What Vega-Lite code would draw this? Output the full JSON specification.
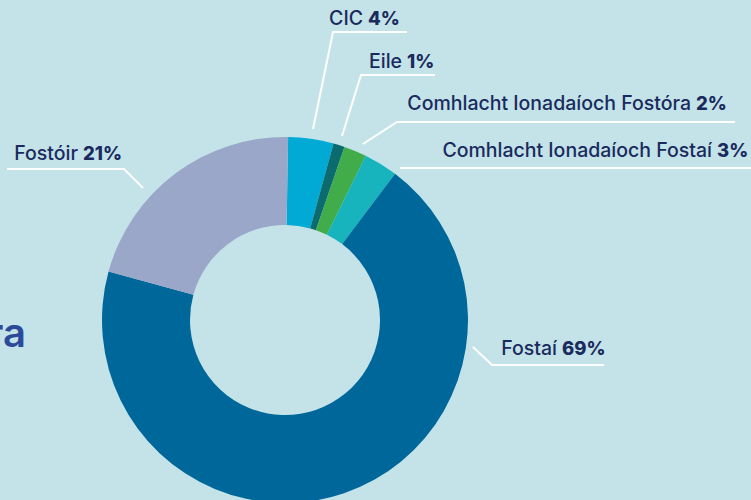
{
  "$schema": "https://vega.github.io/schema/vega-lite/v6.json",
  "width": 751,
  "height": 500,
  "autosize": {"type": "none"},
  "padding": 0,
  "background": "#c3e3e8",
  "config": {"view": {"stroke": null}},
  "datasets": {
    "slices": [
      {"name": "CIC", "pct": 4, "order": 1},
      {"name": "Eile", "pct": 1, "order": 2},
      {"name": "Comhlacht Ionadaíoch Fostóra", "pct": 2, "order": 3},
      {"name": "Comhlacht Ionadaíoch Fostaí", "pct": 3, "order": 4},
      {"name": "Fostaí", "pct": 69, "order": 5},
      {"name": "Fostóir", "pct": 21, "order": 6}
    ],
    "labels": [
      {"name": "CIC", "pctText": "4%", "nameEnd": 363, "pctStart": 368, "base": 25},
      {"name": "Eile", "pctText": "1%", "nameEnd": 402, "pctStart": 407, "base": 68},
      {"name": "Comhlacht Ionadaíoch Fostóra", "pctText": "2%", "nameEnd": 691, "pctStart": 696, "base": 110},
      {"name": "Comhlacht Ionadaíoch Fostaí", "pctText": "3%", "nameEnd": 712, "pctStart": 717, "base": 157},
      {"name": "Fostóir", "pctText": "21%", "nameEnd": 78, "pctStart": 83, "base": 160},
      {"name": "Fostaí", "pctText": "69%", "nameEnd": 557, "pctStart": 562, "base": 355}
    ],
    "leaders": [
      {"name": "CIC", "seg": 1, "px": 313, "py": 129},
      {"name": "CIC", "seg": 2, "px": 333, "py": 32},
      {"name": "CIC", "seg": 3, "px": 407, "py": 32},
      {"name": "Eile", "seg": 1, "px": 342, "py": 136},
      {"name": "Eile", "seg": 2, "px": 361, "py": 75},
      {"name": "Eile", "seg": 3, "px": 435, "py": 75},
      {"name": "Comhlacht Ionadaíoch Fostóra", "seg": 1, "px": 363, "py": 144},
      {"name": "Comhlacht Ionadaíoch Fostóra", "seg": 2, "px": 397, "py": 122},
      {"name": "Comhlacht Ionadaíoch Fostóra", "seg": 3, "px": 735, "py": 122},
      {"name": "Comhlacht Ionadaíoch Fostaí", "seg": 1, "px": 400, "py": 168},
      {"name": "Comhlacht Ionadaíoch Fostaí", "seg": 2, "px": 751, "py": 168},
      {"name": "Fostóir", "seg": 1, "px": 143, "py": 188},
      {"name": "Fostóir", "seg": 2, "px": 124, "py": 169},
      {"name": "Fostóir", "seg": 3, "px": 7, "py": 169},
      {"name": "Fostaí", "seg": 1, "px": 473, "py": 347},
      {"name": "Fostaí", "seg": 2, "px": 492, "py": 365},
      {"name": "Fostaí", "seg": 3, "px": 604, "py": 365}
    ],
    "title": [
      {"text": "ra", "tx": 26, "ty": 347}
    ]
  },
  "layer": [
    {
      "data": {"name": "slices"},
      "mark": {"type": "arc", "outerRadius": 183, "innerRadius": 95},
      "encoding": {
        "x": {"datum": 285, "type": "quantitative", "scale": {"domain": [0, 751], "nice": false, "zero": false}, "axis": null},
        "y": {"datum": 320, "type": "quantitative", "scale": {"domain": [0, 500], "nice": false, "zero": false, "reverse": true}, "axis": null},
        "theta": {"field": "pct", "type": "quantitative", "stack": true, "scale": {"range": [0.017, 6.3002]}},
        "order": {"field": "order", "type": "quantitative"},
        "color": {
          "field": "name",
          "type": "nominal",
          "legend": null,
          "scale": {
            "domain": ["CIC", "Eile", "Comhlacht Ionadaíoch Fostóra", "Comhlacht Ionadaíoch Fostaí", "Fostaí", "Fostóir"],
            "range": ["#00aad4", "#0c6b6f", "#40ad4a", "#17b4bd", "#00679b", "#9aa7c8"]
          }
        }
      }
    },
    {
      "data": {"name": "leaders"},
      "mark": {"type": "line", "color": "#ffffff", "strokeWidth": 2},
      "encoding": {
        "x": {"field": "px", "type": "quantitative"},
        "y": {"field": "py", "type": "quantitative"},
        "detail": {"field": "name"},
        "order": {"field": "seg", "type": "quantitative"}
      }
    },
    {
      "data": {"name": "labels"},
      "mark": {"type": "text", "align": "right", "baseline": "alphabetic", "font": "Inter", "fontSize": 19.5, "fontWeight": 500, "color": "#1a2a5e"},
      "encoding": {
        "x": {"field": "nameEnd", "type": "quantitative"},
        "y": {"field": "base", "type": "quantitative"},
        "text": {"field": "name"}
      }
    },
    {
      "data": {"name": "labels"},
      "mark": {"type": "text", "align": "left", "baseline": "alphabetic", "font": "Inter", "fontSize": 18.5, "fontWeight": 800, "color": "#1a2a5e"},
      "encoding": {
        "x": {"field": "pctStart", "type": "quantitative"},
        "y": {"field": "base", "type": "quantitative"},
        "text": {"field": "pctText"}
      }
    },
    {
      "data": {"name": "title"},
      "mark": {"type": "text", "align": "right", "baseline": "alphabetic", "font": "Inter", "fontSize": 40, "fontWeight": 600, "color": "#2c4a9a"},
      "encoding": {
        "x": {"field": "tx", "type": "quantitative"},
        "y": {"field": "ty", "type": "quantitative"},
        "text": {"field": "text"}
      }
    }
  ]
}
